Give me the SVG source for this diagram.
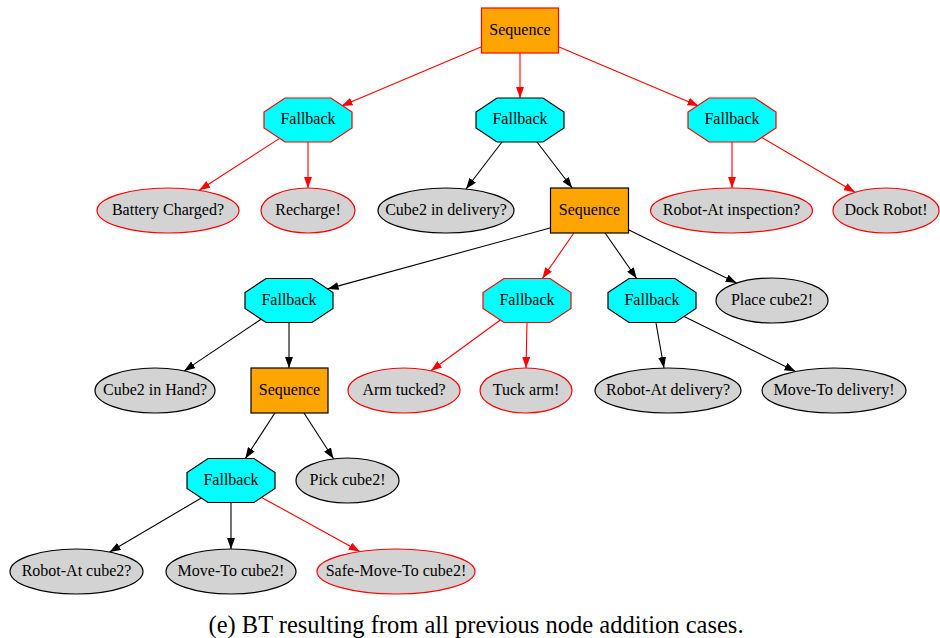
<svg xmlns="http://www.w3.org/2000/svg" width="940" height="638" viewBox="0 0 940 638">
<style>
text{font-family:"Liberation Serif","Times New Roman",serif;font-size:16px;fill:#000;text-anchor:middle}
.seq{fill:#FFA500}
.fb{fill:#00FFFF}
.cond{fill:#D3D3D3}
.k{stroke:#000;stroke-width:1.2}
.r{stroke:#FF0000;stroke-width:1.2}
.ek{stroke:#000;stroke-width:1.1;fill:none;marker-end:url(#ak)}
.er{stroke:#FF0000;stroke-width:1.1;fill:none;marker-end:url(#ar)}
.cap{font-size:24.5px}
</style>
<defs>
<marker id="ak" viewBox="0 0 11 8" refX="11" refY="4" markerWidth="11" markerHeight="8" markerUnits="userSpaceOnUse" orient="auto"><path d="M0,0 L11,4 L0,8 z" fill="#000"/></marker>
<marker id="ar" viewBox="0 0 11 8" refX="11" refY="4" markerWidth="11" markerHeight="8" markerUnits="userSpaceOnUse" orient="auto"><path d="M0,0 L11,4 L0,8 z" fill="#FF0000"/></marker>
<polygon id="oct" points="-23,-22 23,-22 44,-8 44,8 23,22 -23,22 -44,8 -44,-8"/>
</defs>
<g id="edges">
<line class="er" x1="481.5" y1="46.8" x2="341.5" y2="105.9"/>
<line class="er" x1="520" y1="53" x2="520" y2="98"/>
<line class="er" x1="558.5" y1="46.8" x2="698.5" y2="105.9"/>
<line class="er" x1="279.6" y1="138.4" x2="199.2" y2="190.3"/>
<line class="er" x1="308" y1="142" x2="308" y2="188"/>
<line class="ek" x1="502" y1="142" x2="466" y2="189"/>
<line class="ek" x1="537" y1="142" x2="572.2" y2="188"/>
<line class="er" x1="732" y1="142" x2="732" y2="188"/>
<line class="er" x1="761.7" y1="137.5" x2="855" y2="192.3"/>
<line class="ek" x1="550" y1="228" x2="327.6" y2="288.9"/>
<line class="er" x1="573.9" y1="233" x2="542.3" y2="278.5"/>
<line class="ek" x1="605.1" y1="233" x2="636.7" y2="278.5"/>
<line class="ek" x1="629" y1="230" x2="736.6" y2="283.1"/>
<line class="ek" x1="261.1" y1="319.2" x2="184.2" y2="370.9"/>
<line class="ek" x1="289" y1="322.5" x2="289" y2="368"/>
<line class="er" x1="500.3" y1="320" x2="430.9" y2="370.8"/>
<line class="er" x1="527" y1="322.5" x2="526" y2="368"/>
<line class="ek" x1="655.9" y1="322.5" x2="664" y2="368"/>
<line class="ek" x1="684.1" y1="316.4" x2="795.5" y2="371.5"/>
<line class="ek" x1="274.9" y1="413" x2="245.3" y2="458.5"/>
<line class="ek" x1="304" y1="413" x2="333.5" y2="458.8"/>
<line class="ek" x1="201.3" y1="498" x2="109.6" y2="552"/>
<line class="ek" x1="231" y1="502.5" x2="231" y2="549"/>
<line class="er" x1="261.6" y1="497.4" x2="359.8" y2="551.5"/>
</g>
<g id="n_root"><rect class="seq r" x="481.5" y="8" width="77" height="45"/><text x="520" y="35">Sequence</text></g>
<g id="n_fb1"><use href="#oct" x="308" y="120" class="fb r"/><text x="308" y="124">Fallback</text></g>
<g id="n_fb2"><use href="#oct" x="520" y="120" class="fb k"/><text x="520" y="124">Fallback</text></g>
<g id="n_fb3"><use href="#oct" x="732" y="120" class="fb r"/><text x="732" y="124">Fallback</text></g>
<g id="n_battery"><ellipse class="cond r" cx="168" cy="210.5" rx="71" ry="22.5"/><text x="168" y="215">Battery Charged?</text></g>
<g id="n_recharge"><ellipse class="cond r" cx="308" cy="210.5" rx="47" ry="22.5"/><text x="308" y="215">Recharge!</text></g>
<g id="n_cube2del"><ellipse class="cond k" cx="446" cy="210.5" rx="68" ry="22.5"/><text x="446" y="215">Cube2 in delivery?</text></g>
<g id="n_seq2"><rect class="seq k" x="550.5" y="188" width="78" height="45"/><text x="589.5" y="215">Sequence</text></g>
<g id="n_atinsp"><ellipse class="cond r" cx="731.5" cy="210.5" rx="81" ry="22.5"/><text x="731.5" y="215">Robot-At inspection?</text></g>
<g id="n_dock"><ellipse class="cond r" cx="886" cy="210.5" rx="53" ry="22.5"/><text x="886" y="215">Dock Robot!</text></g>
<g id="n_fb4"><use href="#oct" x="289" y="300.5" class="fb k"/><text x="289" y="305">Fallback</text></g>
<g id="n_fb5"><use href="#oct" x="527" y="300.5" class="fb r"/><text x="527" y="305">Fallback</text></g>
<g id="n_fb6"><use href="#oct" x="652" y="300.5" class="fb k"/><text x="652" y="305">Fallback</text></g>
<g id="n_place"><ellipse class="cond k" cx="772" cy="300.5" rx="56" ry="22.5"/><text x="772" y="305">Place cube2!</text></g>
<g id="n_inhand"><ellipse class="cond k" cx="155" cy="390.5" rx="60" ry="22.5"/><text x="155" y="395">Cube2 in Hand?</text></g>
<g id="n_seq3"><rect class="seq k" x="251" y="368" width="77" height="45"/><text x="289.5" y="395">Sequence</text></g>
<g id="n_armtucked"><ellipse class="cond r" cx="404" cy="390.5" rx="56" ry="22.5"/><text x="404" y="395">Arm tucked?</text></g>
<g id="n_tuck"><ellipse class="cond r" cx="526" cy="390.5" rx="46" ry="22.5"/><text x="526" y="395">Tuck arm!</text></g>
<g id="n_atdel"><ellipse class="cond k" cx="668" cy="390.5" rx="73" ry="22.5"/><text x="668" y="395">Robot-At delivery?</text></g>
<g id="n_movedel"><ellipse class="cond k" cx="834" cy="390.5" rx="72" ry="22.5"/><text x="834" y="395">Move-To delivery!</text></g>
<g id="n_fb7"><use href="#oct" x="231" y="480.5" class="fb k"/><text x="231" y="485">Fallback</text></g>
<g id="n_pick"><ellipse class="cond k" cx="347.5" cy="480.5" rx="51.5" ry="22.5"/><text x="347.5" y="485">Pick cube2!</text></g>
<g id="n_atcube"><ellipse class="cond k" cx="76.5" cy="571.5" rx="66.5" ry="22.5"/><text x="76.5" y="576">Robot-At cube2?</text></g>
<g id="n_movecube"><ellipse class="cond k" cx="231" cy="571.5" rx="65" ry="22.5"/><text x="231" y="576">Move-To cube2!</text></g>
<g id="n_safemove"><ellipse class="cond r" cx="396" cy="571.5" rx="79" ry="22.5"/><text x="396" y="576">Safe-Move-To cube2!</text></g>
<text class="cap" x="476" y="633">(e) BT resulting from all previous node addition cases.</text>
</svg>
